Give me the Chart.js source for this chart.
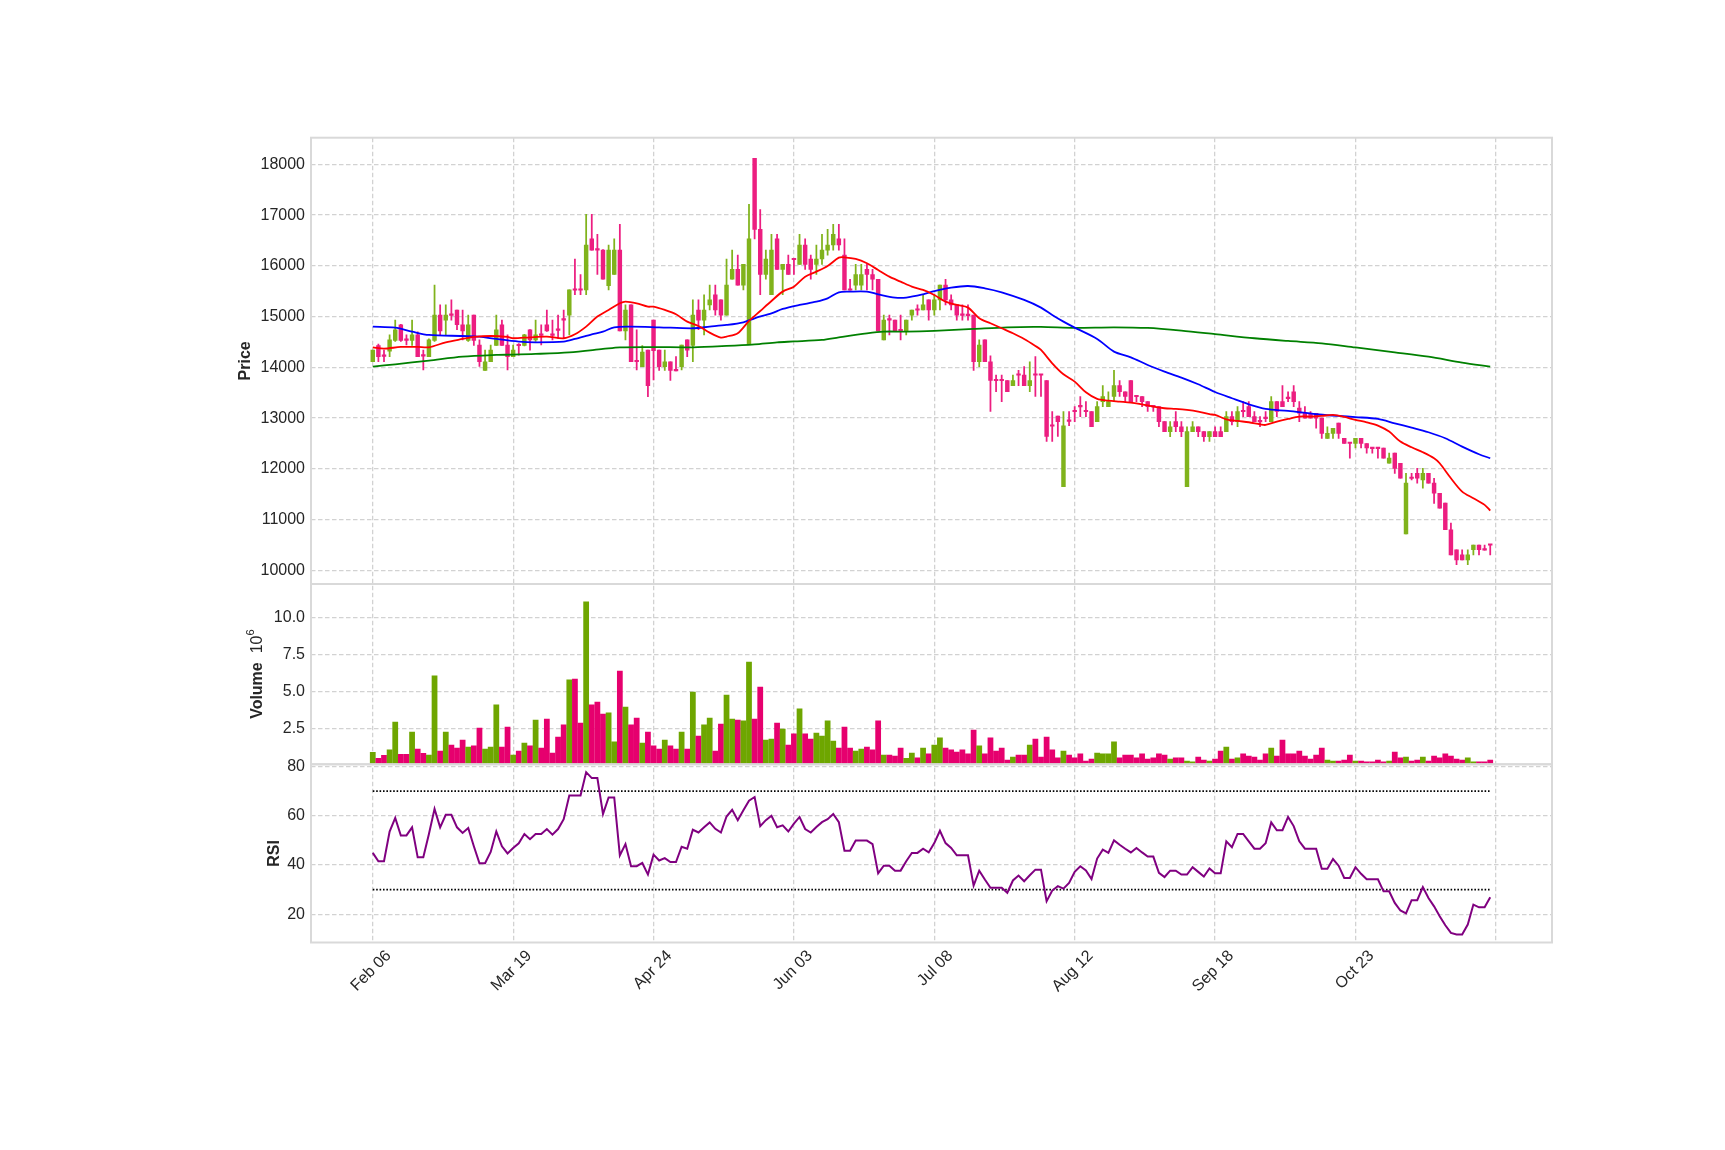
<!DOCTYPE html>
<html>
<head>
<meta charset="utf-8">
<title>Price / Volume / RSI</title>
<script src="https://cdn.jsdelivr.net/npm/chart.js@4.4.1/dist/chart.umd.min.js"></script>
<style>
  html, body { margin: 0; padding: 0; background: #fff; }
  #chart { display: block; }
</style>
</head>
<body>
<canvas id="chart" width="1725" height="1150"></canvas>
<script>
/* ── DATA ───────────────────────────────────────────────────────── */
const DATE_TICKS  = [0, 25, 50, 75, 100, 125, 150, 175, 200];
const DATE_LABELS = ['Feb 06', 'Mar 19', 'Apr 24', 'Jun 03', 'Jul 08', 'Aug 12', 'Sep 18', 'Oct 23', ''];

const PRICE_TICKS = [10000, 11000, 12000, 13000, 14000, 15000, 16000, 17000, 18000];
const VOL_TICKS   = [2.5, 5.0, 7.5, 10.0];
const RSI_TICKS   = [20, 40, 60, 80];
const RSI_LEVELS  = [70, 30];

const OPEN = [
  14110,14430,14225,14320,14530,14840,14545,14530,14640,14230,
  14210,14530,15030,14930,15040,15130,14840,14530,15030,14440,
  13940,14110,14430,14840,14440,14210,14435,14430,14740,14540,
  14645,14840,14645,14740,14940,15030,15530,15530,15525,16530,
  16320,16310,15610,15830,16310,14720,15230,14120,14015,14340,
  14930,14340,14015,14110,13940,14015,14540,14430,15130,14930,
  15230,15430,15330,15030,15735,15930,15620,14450,18120,16720,
  15830,15430,16530,15930,16030,16135,16030,16410,16135,16030,
  16135,16310,16410,16530,16210,15530,15620,15620,15930,15830,
  15735,14540,14940,14930,14730,14720,15030,15135,15130,15330,
  15130,15330,15620,15330,15230,15040,15035,15030,14110,14540,
  14110,13745,13745,13740,13640,13855,13850,13640,13855,13855,
  13740,12850,13040,11650,12945,13135,13230,13135,13130,12930,
  13325,13225,13425,13640,13520,13740,13430,13425,13325,13230,
  13225,12930,12735,12930,12830,11650,12735,12830,12735,12635,
  12735,12735,12735,13030,12930,13135,13225,13030,12935,13000,
  12930,13325,13325,13395,13520,13195,13095,13095,13095,13000,
  12600,12700,12900,12600,12510,12500,12600,12500,12410,12410,
  12410,12110,12310,12110,10720,11820,11910,11780,11910,11720,
  11520,11325,10800,10405,10305,10205,10405,10500,10410,10505
];
const HIGH = [
  14340,14460,14340,14640,14930,14850,14640,14930,14700,14340,
  14560,15620,15230,15230,15330,15130,15130,15030,15030,14540,
  14340,14440,15030,14930,14640,14440,14470,14650,14745,14930,
  14840,15130,14930,15030,15130,15525,16135,15830,17015,17015,
  16620,16320,16410,16530,16820,15230,15230,14740,14430,14340,
  14930,14340,14340,14110,14210,14440,14540,15330,15330,15430,
  15620,15620,15330,16135,16310,16210,16030,17210,18120,17110,
  16310,16620,16620,16030,16210,16135,16620,16530,16210,16410,
  16620,16720,16820,16820,16530,15735,16030,16030,16030,15930,
  15735,15030,15030,14930,15030,14930,15130,15230,15430,15330,
  15430,15620,15735,15430,15230,15230,15230,15030,14540,14540,
  14225,13850,13850,13740,13850,13940,14015,14110,14210,13855,
  13740,13130,13040,13130,13130,13225,13425,13325,13130,13325,
  13640,13520,13940,13740,13520,13740,13430,13425,13325,13230,
  13225,12930,12930,13130,12930,12830,12930,12830,12735,12735,
  12830,12830,13130,13130,13225,13325,13325,13130,13030,13130,
  13425,13325,13640,13520,13640,13325,13225,13130,13095,13000,
  12830,12800,12900,12600,12510,12600,12600,12500,12420,12420,
  12410,12310,12310,12110,11910,11910,12010,12010,11910,11815,
  11520,11325,10930,10405,10405,10405,10500,10500,10500,10505
];
const LOW = [
  14110,14110,14110,14210,14510,14510,14440,14430,14210,13950,
  14210,14510,14640,14640,14930,14740,14540,14510,14430,14020,
  13940,14110,14430,14430,13950,14210,14240,14420,14340,14510,
  14440,14710,14540,14570,14570,14640,15430,15430,15430,16310,
  15830,15735,15525,15830,14720,14540,14110,13950,14015,13420,
  13750,13940,13940,13740,13930,13950,14210,14110,14740,14640,
  15130,15030,14930,15030,15735,15620,15525,14450,16530,15430,
  15735,15430,15930,15430,15830,15830,16030,15930,15735,15830,
  16030,16210,16310,16310,15525,15520,15525,15525,15525,15525,
  14720,14540,14640,14720,14540,14640,14930,15030,15130,14930,
  15030,15130,15230,15130,14930,14930,14930,13940,14015,14110,
  13130,13520,13325,13520,13640,13640,13640,13520,13425,13425,
  12540,12540,12640,11650,12850,12930,13030,13030,12830,12930,
  13225,13225,13325,13425,13325,13325,13325,13225,13130,13130,
  12830,12735,12635,12735,12635,11650,12735,12635,12540,12540,
  12635,12635,12735,12865,12830,13030,13030,12930,12830,12930,
  12930,13030,13225,13325,13225,12930,13000,13000,12800,12600,
  12600,12600,12600,12500,12210,12410,12410,12310,12310,12210,
  12210,12110,11910,11815,10720,11780,11720,11620,11720,11320,
  11225,10800,10305,10110,10205,10110,10305,10305,10400,10305
];
const CLOSE = [
  14340,14210,14215,14540,14740,14530,14530,14640,14210,14220,
  14540,15030,14720,15030,15025,14840,14720,14840,14530,14110,
  14110,14340,14740,14430,14210,14340,14425,14640,14540,14640,
  14630,14720,14630,14730,14930,15525,15520,15520,16410,16310,
  16310,15735,16310,16310,14720,15130,14110,14110,14300,13640,
  14330,14015,14110,13940,13930,14440,14340,15030,14930,15130,
  15330,15130,15030,15620,15930,15620,16030,16530,16720,15830,
  16135,16310,15930,16030,15830,16120,16410,16030,15930,16135,
  16310,16410,16620,16410,15525,15520,15830,15830,15830,15735,
  14720,14930,14930,14720,14720,14930,15130,15125,15230,15130,
  15330,15620,15330,15230,15030,15025,15020,14110,14440,14110,
  13740,13735,13735,13520,13740,13845,13640,13740,13845,13845,
  12640,12840,12930,12850,12935,13125,13220,13125,12830,13225,
  13425,13325,13640,13520,13425,13325,13420,13325,13225,13220,
  12930,12735,12830,12830,12735,12735,12830,12735,12635,12735,
  12635,12635,13030,12930,13130,13125,13030,12930,12925,12990,
  13325,13130,13225,13385,13325,13095,13000,13000,13000,12700,
  12700,12800,12700,12500,12500,12600,12500,12410,12400,12400,
  12210,12210,12010,11815,11720,11810,11815,11910,11720,11520,
  11225,10800,10305,10205,10205,10305,10500,10405,10400,10495
];

// volume, millions of shares
const VOLUME = [
  0.88,0.47,0.68,1.04,2.93,0.74,0.74,2.25,1.10,0.81,
  0.70,6.04,0.97,2.25,1.37,1.17,1.71,1.24,1.31,2.52,
  1.10,1.24,4.08,1.24,2.59,0.70,0.97,1.51,1.31,3.06,
  1.17,3.13,0.83,1.91,2.73,5.77,5.83,2.86,11.04,4.08,
  4.28,3.47,3.54,1.58,6.37,3.94,2.73,3.20,1.51,2.25,
  1.31,1.10,1.71,1.31,1.10,2.25,1.10,4.95,1.98,2.73,
  3.20,0.97,2.79,4.75,3.13,3.06,3.00,6.98,3.13,5.29,
  1.71,1.78,2.86,2.45,1.37,2.12,3.81,2.12,1.78,2.18,
  1.98,3.00,1.64,1.17,2.59,1.17,0.97,1.10,1.24,1.04,
  3.00,0.70,0.70,0.63,1.17,0.47,0.83,0.50,1.17,0.77,
  1.37,1.85,1.17,1.04,0.90,1.04,0.77,2.39,1.31,0.77,
  1.85,0.97,1.17,0.36,0.56,0.70,0.70,1.37,1.78,0.56,
  1.91,1.04,0.50,0.97,0.70,0.50,0.77,0.29,0.43,0.83,
  0.77,0.77,1.58,0.50,0.70,0.70,0.50,0.77,0.43,0.50,
  0.77,0.70,0.43,0.50,0.50,0.29,0.23,0.56,0.36,0.29,
  0.43,0.97,1.24,0.43,0.50,0.77,0.63,0.56,0.36,0.77,
  1.17,0.63,1.71,0.77,0.77,0.97,0.63,0.43,0.70,1.17,
  0.36,0.29,0.29,0.36,0.70,0.29,0.29,0.23,0.23,0.36,
  0.23,0.29,0.90,0.50,0.56,0.29,0.36,0.56,0.29,0.63,
  0.50,0.77,0.63,0.43,0.36,0.50,0.23,0.23,0.23,0.36
];

const RSI = [
  44.9,41.5,41.5,53.6,59.1,52.0,52.0,55.3,43.1,43.1,
  52.6,62.8,55.3,60.4,60.4,55.3,53.0,55.0,47.6,40.7,
  40.7,45.3,53.6,47.6,44.7,46.9,48.8,52.6,50.5,52.6,
  52.6,54.6,52.3,54.6,58.6,68.2,68.2,68.2,77.7,75.3,
  75.3,60.7,67.4,67.4,43.9,48.5,39.5,39.5,40.8,36.1,
  44.2,41.8,42.8,41.2,41.2,47.4,46.6,54.3,53.2,55.3,
  57.3,54.7,53.2,59.7,62.4,58.2,62.2,66.1,67.6,55.8,
  58.2,60.0,55.3,56.1,53.6,56.8,59.5,54.6,53.2,55.4,
  57.4,58.6,60.7,57.4,45.8,45.8,49.9,49.9,49.9,48.5,
  36.6,39.7,39.7,37.7,37.7,41.5,44.9,44.9,46.6,45.1,
  48.9,53.9,48.9,46.9,43.9,43.9,43.9,31.6,37.7,34.1,
  30.7,30.7,30.7,28.7,33.7,35.7,33.4,35.8,38.1,38.1,
  25.3,29.6,31.4,30.4,32.7,37.2,39.5,37.8,34.3,42.6,
  46.2,44.9,50.0,48.2,46.6,45.1,46.9,45.1,43.4,43.4,
  36.8,35.1,37.7,37.7,36.1,36.1,39.1,37.2,35.3,38.6,
  36.6,36.6,49.6,47.2,52.6,52.6,49.6,46.6,46.6,48.8,
  57.3,54.1,54.1,59.5,55.8,49.6,46.6,46.6,46.6,38.5,
  38.5,42.4,39.7,34.7,34.7,39.1,36.4,34.2,34.2,34.2,
  29.3,29.3,24.6,21.5,20.3,25.7,25.7,31.0,26.6,23.2,
  19.2,15.5,12.4,11.8,11.8,15.8,23.9,22.8,22.8,26.9
];

// moving averages at these bar indexes
const MA_RED_IDX = [0,2,5,8,10,13,16,18,21,24,25,28,31,34,36,38,40,42,44,45,47,49,50,52,54,56,58,60,62,63,65,67,69,71,73,75,77,79,81,83,84,86,88,90,92,94,96,98,100,102,104,106,108,110,112,114,116,118,119,121,123,125,127,129,131,133,135,137,139,141,143,145,147,149,150,152,154,156,158,159,161,163,165,167,169,171,173,175,177,179,181,183,185,187,189,190,192,194,196,198,199];
const MA_RED = [14395,14369,14402,14402,14395,14494,14559,14599,14618,14599,14573,14592,14605,14573,14651,14802,15000,15131,15262,15295,15262,15196,15196,15131,15045,14901,14816,14684,14586,14605,14671,14914,15111,15308,15492,15590,15787,15886,15997,16161,16168,16135,16050,15919,15787,15689,15590,15525,15426,15295,15229,15177,14967,14868,14770,14671,14559,14422,14343,14080,13863,13719,13509,13378,13345,13325,13305,13272,13227,13194,13181,13161,13128,13076,13062,12977,12944,12918,12879,12865,12931,12984,13030,13030,13043,13062,13023,12964,12918,12852,12734,12537,12425,12327,12209,12110,11815,11552,11421,11290,11178];

const MA_BLUE_IDX = [0,4,7,10,16,19,22,26,29,34,36,39,41,43,46,51,57,60,63,66,68,71,73,76,79,81,83,85,88,90,93,95,98,100,103,106,109,112,116,119,121,123,125,129,132,135,138,141,144,147,150,153,156,159,163,168,172,175,179,182,185,188,191,194,197,199];
const MA_BLUE = [14802,14783,14704,14638,14618,14605,14559,14507,14494,14507,14559,14651,14704,14789,14802,14789,14770,14802,14835,14888,14967,15065,15150,15229,15295,15360,15479,15492,15492,15439,15374,15374,15439,15500,15570,15603,15557,15479,15328,15177,15032,14901,14783,14559,14310,14198,14047,13916,13798,13666,13515,13391,13272,13181,13141,13076,13043,13020,12984,12898,12813,12721,12603,12439,12288,12209];

const MA_GREEN_IDX = [0,4,10,16,22,25,29,35,41,44,50,57,63,68,72,75,80,83,88,91,95,100,107,113,119,125,132,138,144,150,157,163,169,175,182,188,194,199];
const MA_GREEN = [14014,14060,14133,14211,14244,14250,14264,14297,14362,14395,14400,14395,14422,14454,14494,14510,14540,14592,14671,14704,14704,14720,14757,14789,14796,14778,14789,14776,14724,14655,14573,14520,14474,14392,14297,14211,14093,14014];

/* ── STYLE ──────────────────────────────────────────────────────── */
const UP_CANDLE   = '#80b31c';
const DOWN_CANDLE = '#ec1e80';
const UP_VOL      = '#6ea600';
const DOWN_VOL    = '#e6006e';
const GRID        = '#d2d2d2';
const FRAME       = '#d9d9d9';
const TEXT        = '#262626';
const FONT        = "'Liberation Sans', Arial, sans-serif";

Chart.defaults.font.family = FONT;
Chart.defaults.font.size = 16;
Chart.defaults.color = TEXT;

const idx = OPEN.map((_, i) => i);
const isUp = i => CLOSE[i] >= OPEN[i];
const candleColors = idx.map(i => isUp(i) ? UP_CANDLE : DOWN_CANDLE);
const volColors = idx.map(i => isUp(i) ? UP_VOL : DOWN_VOL);
const pts = (xs, ys) => xs.map((x, k) => ({ x, y: ys[k] }));

/* ── PANEL FRAMES + AXIS TITLES ─────────────────────────────────── */
function drawRotated(ctx, cx, cy, parts) {
  ctx.save();
  ctx.translate(cx, cy);
  ctx.rotate(-Math.PI / 2);
  let total = 0;
  parts.forEach(p => { ctx.font = p.font; p.w = ctx.measureText(p.text).width; total += p.w; });
  let x = -total / 2;
  ctx.textAlign = 'left';
  ctx.textBaseline = 'middle';
  ctx.fillStyle = TEXT;
  parts.forEach(p => { ctx.font = p.font; ctx.fillText(p.text, x, -(p.rise || 0)); x += p.w; });
  ctx.restore();
}

const panels = {
  id: 'panels',
  afterDraw(chart) {
    const { ctx, chartArea: a } = chart;
    ctx.save();
    ctx.strokeStyle = FRAME;
    ctx.lineWidth = 2;
    ['y', 'yVol', 'yRsi'].forEach(id => {
      const s = chart.scales[id];
      ctx.strokeRect(a.left, s.top, a.right - a.left, s.bottom - s.top);
    });
    ctx.restore();

    const bold = `bold 16px ${FONT}`, normal = `16px ${FONT}`, small = `11px ${FONT}`;
    const mid = s => (s.top + s.bottom) / 2;
    drawRotated(ctx, a.left - 65, mid(chart.scales.y), [{ text: 'Price', font: bold }]);
    drawRotated(ctx, a.left - 53, mid(chart.scales.yVol), [
      { text: 'Volume', font: bold },
      { text: '  10', font: normal },
      { text: '6', font: small, rise: 7 }
    ]);
    drawRotated(ctx, a.left - 36, mid(chart.scales.yRsi), [{ text: 'RSI', font: bold }]);
  }
};

/* ── CHART ──────────────────────────────────────────────────────── */
const gridOpts = { color: GRID, lineWidth: 1.3, drawTicks: false };
const noBorder = { dash: [4.5, 2.5], display: false };
const fixedTicks = list => scale => { scale.ticks = list.map(v => ({ value: v })); };
const fixWidth = scale => { scale.width = 60; };

new Chart(document.getElementById('chart'), {
  type: 'bar',
  data: {
    datasets: [
      { type: 'line', label: 'MA short', data: pts(MA_RED_IDX, MA_RED), yAxisID: 'y',
        borderColor: '#ff0000', borderWidth: 1.8, pointRadius: 0, tension: 0.3, order: 0 },
      { type: 'line', label: 'MA mid', data: pts(MA_BLUE_IDX, MA_BLUE), yAxisID: 'y',
        borderColor: '#0000ff', borderWidth: 1.8, pointRadius: 0, tension: 0.3, order: 0 },
      { type: 'line', label: 'MA long', data: pts(MA_GREEN_IDX, MA_GREEN), yAxisID: 'y',
        borderColor: '#008000', borderWidth: 1.8, pointRadius: 0, tension: 0.3, order: 0 },
      { label: 'body', data: idx.map(i => ({ x: i, y: [OPEN[i], CLOSE[i]] })), yAxisID: 'y',
        backgroundColor: candleColors, barThickness: 3.8, minBarLength: 1.5,
        grouped: false, order: 1 },
      { label: 'wick', data: idx.map(i => ({ x: i, y: [LOW[i], HIGH[i]] })), yAxisID: 'y',
        backgroundColor: candleColors, barThickness: 1.1, minBarLength: 1,
        grouped: false, order: 2 },
      { label: 'volume', data: idx.map(i => ({ x: i, y: VOLUME[i] })), yAxisID: 'yVol',
        backgroundColor: volColors, barThickness: 5.1, grouped: false, order: 3 },
      { type: 'line', label: 'RSI', data: pts(idx, RSI), yAxisID: 'yRsi',
        borderColor: '#800080', borderWidth: 2, pointRadius: 0, tension: 0, order: 0 },
      ...RSI_LEVELS.map(lv => ({
        type: 'line', label: 'RSI ' + lv, data: [{ x: 0, y: lv }, { x: idx.length - 1, y: lv }],
        yAxisID: 'yRsi', borderColor: '#000000', borderWidth: 1.6, borderDash: [1.6, 1.8],
        pointRadius: 0, order: 0
      }))
    ]
  },
  options: {
    responsive: false,
    animation: false,
    devicePixelRatio: 1,
    layout: { padding: { left: 251, right: 173, top: 137.7, bottom: 0 } },
    plugins: { legend: { display: false }, tooltip: { enabled: false } },
    scales: {
      x: {
        type: 'linear', min: -11, max: 210, offset: false,
        grid: { ...gridOpts, offset: false },
        border: noBorder,
        afterBuildTicks: fixedTicks(DATE_TICKS),
        afterFit: s => { s.height = 207.5; },
        ticks: {
          autoSkip: false, minRotation: 45, maxRotation: 45, padding: 4, labelOffset: 16,
          callback: v => DATE_LABELS[DATE_TICKS.indexOf(v)] ?? ''
        }
      },
      y: {
        type: 'linear', position: 'left', stack: 'panels', stackWeight: 446.3, weight: 3,
        min: 9731, max: 18525,
        grid: gridOpts, border: noBorder,
        afterBuildTicks: fixedTicks(PRICE_TICKS), afterFit: fixWidth,
        ticks: { padding: 6, callback: v => String(v) }
      },
      yVol: {
        type: 'linear', position: 'left', stack: 'panels', stackWeight: 180.3, weight: 2,
        min: 0.07, max: 12.25,
        grid: gridOpts, border: noBorder,
        afterBuildTicks: fixedTicks(VOL_TICKS), afterFit: fixWidth,
        ticks: { padding: 6, callback: v => v.toFixed(1) }
      },
      yRsi: {
        type: 'linear', position: 'left', stack: 'panels', stackWeight: 178.2, weight: 1,
        min: 8.5, max: 80.9,
        grid: gridOpts, border: noBorder,
        afterBuildTicks: fixedTicks(RSI_TICKS), afterFit: fixWidth,
        ticks: { padding: 6, callback: v => String(v) }
      }
    }
  },
  plugins: [panels]
});
</script>
</body>
</html>
